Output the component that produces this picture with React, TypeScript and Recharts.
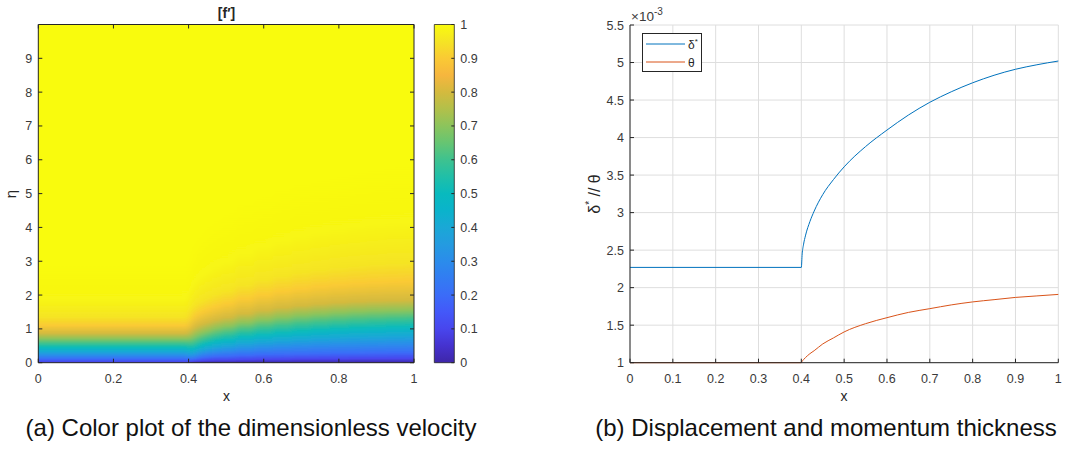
import React from "react";
import {
  ComposedChart,
  LineChart,
  Line,
  XAxis,
  YAxis,
  CartesianGrid,
  ReferenceArea,
  Legend,
} from "recharts";

const FONT = '"Liberation Sans", Arial, Helvetica, sans-serif';
const INK = "#262626";
const TEXT = "#3a3a3a";
const GRID = "#dedede";

// (a) colour plot of f'(x, eta). At each station along x the profile is kept as
// the height eta where f' reaches each level.
const stationX = [0, 0.4, 0.405, 0.41, 0.42, 0.435, 0.45, 0.475, 0.5, 0.55, 0.6, 0.65, 0.7, 0.75, 0.8, 0.85, 0.9, 0.95, 1.0];
const wallF = [0.08, 0.08, 0.02, 0.01, 0, 0, 0, 0, 0, 0, 0, 0, 0, 0, 0, 0, 0, 0, 0];
const fLevels = [0.1, 0.2, 0.3, 0.4, 0.5, 0.6, 0.7, 0.8, 0.9, 0.95, 0.99, 1];
const eta010 = [0.02, 0.02, 0.03, 0.04, 0.05, 0.06, 0.07, 0.08, 0.08, 0.09, 0.1, 0.1, 0.11, 0.11, 0.11, 0.12, 0.12, 0.12, 0.12];
const eta020 = [0.11, 0.11, 0.08, 0.1, 0.12, 0.15, 0.17, 0.19, 0.2, 0.22, 0.24, 0.25, 0.26, 0.27, 0.28, 0.28, 0.29, 0.3, 0.3];
const eta030 = [0.21, 0.21, 0.15, 0.18, 0.22, 0.26, 0.29, 0.32, 0.35, 0.39, 0.43, 0.46, 0.48, 0.5, 0.51, 0.52, 0.53, 0.54, 0.55];
const eta040 = [0.32, 0.32, 0.25, 0.28, 0.33, 0.38, 0.42, 0.47, 0.51, 0.57, 0.62, 0.66, 0.69, 0.72, 0.74, 0.76, 0.77, 0.79, 0.8];
const eta050 = [0.44, 0.44, 0.37, 0.4, 0.46, 0.52, 0.57, 0.63, 0.68, 0.76, 0.82, 0.87, 0.91, 0.95, 0.98, 1.0, 1.02, 1.04, 1.05];
const eta060 = [0.57, 0.57, 0.52, 0.56, 0.62, 0.68, 0.74, 0.81, 0.87, 0.96, 1.04, 1.1, 1.15, 1.19, 1.22, 1.25, 1.27, 1.29, 1.3];
const eta070 = [0.71, 0.71, 0.72, 0.76, 0.82, 0.88, 0.94, 1.02, 1.08, 1.18, 1.27, 1.34, 1.4, 1.44, 1.48, 1.51, 1.53, 1.54, 1.55];
const eta080 = [0.87, 0.87, 0.95, 1.0, 1.06, 1.13, 1.19, 1.27, 1.34, 1.45, 1.55, 1.63, 1.69, 1.74, 1.78, 1.81, 1.83, 1.84, 1.85];
const eta090 = [1.1, 1.1, 1.25, 1.32, 1.4, 1.48, 1.56, 1.65, 1.74, 1.88, 2.0, 2.1, 2.18, 2.25, 2.3, 2.34, 2.37, 2.39, 2.4];
const eta095 = [1.35, 1.35, 1.55, 1.63, 1.72, 1.82, 1.91, 2.02, 2.12, 2.29, 2.44, 2.56, 2.66, 2.74, 2.81, 2.86, 2.9, 2.93, 2.95];
const eta099 = [1.9, 1.9, 2.2, 2.3, 2.45, 2.6, 2.72, 2.88, 3.02, 3.25, 3.45, 3.62, 3.76, 3.88, 3.98, 4.06, 4.12, 4.17, 4.2];
const eta100 = [3.0, 3.0, 3.4, 3.6, 3.8, 4.0, 4.2, 4.4, 4.6, 4.9, 5.1, 5.3, 5.5, 5.6, 5.7, 5.8, 5.9, 6.0, 6.0];
const levelEta = [eta010, eta020, eta030, eta040, eta050, eta060, eta070, eta080, eta090, eta095, eta099, eta100];

const xTicksA = [0, 0.2, 0.4, 0.6, 0.8, 1];
const etaTicks = [0, 1, 2, 3, 4, 5, 6, 7, 8, 9];
const cbarTicks = [0, 0.1, 0.2, 0.3, 0.4, 0.5, 0.6, 0.7, 0.8, 0.9, 1];

// parula-like colormap
const cmapAt = [0, 0.05, 0.1, 0.15, 0.2, 0.25, 0.3, 0.35, 0.4, 0.45, 0.5, 0.55, 0.6, 0.65, 0.7, 0.75, 0.8, 0.85, 0.9, 0.95, 1];
const cmapRgb = [
  [62, 38, 168], [69, 50, 207], [72, 70, 237], [67, 88, 249], [59, 108, 248],
  [50, 124, 242], [43, 140, 235], [36, 155, 224], [26, 168, 214], [10, 179, 203],
  [8, 186, 190], [32, 191, 168], [62, 194, 143], [102, 197, 114], [140, 196, 92],
  [178, 192, 74], [212, 186, 62], [246, 182, 62], [250, 202, 52], [245, 228, 36],
  [249, 251, 14],
];

// (b) displacement / momentum thickness, in units of 1e-3
const xB = [0, 0.4, 0.402, 0.405, 0.41, 0.42, 0.43, 0.45, 0.475, 0.5, 0.55, 0.6, 0.65, 0.7, 0.75, 0.8, 0.85, 0.9, 0.95, 1];
const deltaStar = [2.27, 2.27, 2.45, 2.57, 2.7, 2.88, 3.02, 3.24, 3.44, 3.61, 3.88, 4.1, 4.3, 4.47, 4.61, 4.73, 4.83, 4.91, 4.97, 5.02];
const theta = [1.0, 1.0, 1.02, 1.04, 1.07, 1.12, 1.16, 1.25, 1.33, 1.41, 1.52, 1.6, 1.67, 1.72, 1.77, 1.81, 1.84, 1.87, 1.89, 1.91];
const xTicksB = [0, 0.1, 0.2, 0.3, 0.4, 0.5, 0.6, 0.7, 0.8, 0.9, 1];
const yTicksB = [1, 1.5, 2, 2.5, 3, 3.5, 4, 4.5, 5, 5.5];

function parula(v: number) {
  const t = Math.max(0, Math.min(1, v));
  let k = 0;
  while (k < cmapAt.length - 2 && t > cmapAt[k + 1]) k++;
  const f = (t - cmapAt[k]) / (cmapAt[k + 1] - cmapAt[k]);
  const a = cmapRgb[k];
  const b = cmapRgb[k + 1];
  const c = a.map((ai, j) => Math.round(ai + (b[j] - ai) * f));
  return `rgb(${c[0]},${c[1]},${c[2]})`;
}

// one strip per station, reaching halfway to its neighbours; the outer strips run a
// little past the frame so the horizontal smoothing has something to blend with
const columns = stationX.map((x, i) => {
  const left = i === 0 ? -0.03 : (stationX[i - 1] + x) / 2;
  const right = i === stationX.length - 1 ? 1.03 : (x + stationX[i + 1]) / 2 + 0.004;
  const stops = [{ o: 0, c: parula(wallF[i]) }].concat(
    fLevels.map((f, k) => ({ o: levelEta[k][i] / 10, c: parula(f) }))
  );
  return { id: `fcol${i}`, left, right, stops };
});

const rowsA = stationX.map((x) => ({ x, y: 5 }));
const rowsBar = cbarTicks.map((v) => ({ x: 0.5, v }));
const rowsB = xB.map((x, i) => ({ x, d: deltaStar[i], t: theta[i] }));

const fmt = (v: number) => String(v);
const tickText = { fill: TEXT, fontSize: 12.5, fontFamily: FONT };

// ticks point inwards, as in MATLAB
const bottomTick = (p: any) => (
  <g>
    <line x1={p.x} x2={p.x} y1={p.y} y2={p.y - 4} stroke={INK} />
    <text x={p.x} y={p.y + 20} textAnchor="middle" {...tickText}>
      {fmt(p.payload.value)}
    </text>
  </g>
);
const leftTick = (p: any) => (
  <g>
    <line x1={p.x} x2={p.x + 4} y1={p.y} y2={p.y} stroke={INK} />
    <text x={p.x - 6} y={p.y + 4.5} textAnchor="end" {...tickText}>
      {fmt(p.payload.value)}
    </text>
  </g>
);
const rightTickOnly = (p: any) => <line x1={p.x} x2={p.x - 4} y1={p.y} y2={p.y} stroke={INK} />;
const topTickOnly = (p: any) => <line x1={p.x} x2={p.x} y1={p.y} y2={p.y + 4} stroke={INK} />;
const cbarTick = (p: any) => (
  <g>
    <line x1={p.x} x2={p.x - 3} y1={p.y} y2={p.y} stroke={INK} />
    <text x={p.x + 6} y={p.y + 4.5} textAnchor="start" {...tickText}>
      {fmt(p.payload.value)}
    </text>
  </g>
);

function LegendBox(props: any) {
  const items = props.payload || [];
  return (
    <svg width={60} height={39} style={{ display: "block" }}>
      <rect x={0.5} y={0.5} width={59} height={38} fill="#fff" stroke={INK} />
      {items.map((it: any, i: number) => {
        const y = 11 + i * 18;
        const star = String(it.value).endsWith("*");
        const base = star ? String(it.value).slice(0, -1) : String(it.value);
        return (
          <g key={i}>
            <line x1={4} x2={43} y1={y} y2={y} stroke={it.color} strokeWidth={1} />
            <text x={46} y={y + 4.5} fontSize={12} fontFamily={FONT} fill={INK}>
              {base}
              {star && (
                <tspan dy={-5} fontSize={8}>
                  *
                </tspan>
              )}
            </text>
          </g>
        );
      })}
    </svg>
  );
}

const plotA = { left: 38.3, top: 24.5, right: 414, bottom: 362.7 };

export default function App() {
  return (
    <div style={{ position: "absolute", left: 0, top: 0, width: 1066, height: 457, background: "#fff", overflow: "hidden" }}>
      <svg width={1} height={1} style={{ position: "absolute", left: 0, top: 0 }}>
        <defs>
          {columns.map((col) => (
            <linearGradient key={col.id} id={col.id} x1="0" y1="1" x2="0" y2="0">
              {col.stops.map((s, k) => (
                <stop key={k} offset={s.o} stopColor={s.c} />
              ))}
            </linearGradient>
          ))}
          <linearGradient id="cbar" x1="0" y1="1" x2="0" y2="0">
            {cmapAt.map((v, k) => (
              <stop key={k} offset={v} stopColor={parula(v)} />
            ))}
          </linearGradient>
          <filter id="hblur" x="-5%" y="0%" width="110%" height="100%">
            <feGaussianBlur stdDeviation="3 0" />
          </filter>
        </defs>
      </svg>

      {/* (a) colour field, clipped to the frame and smoothed along x */}
      <div
        style={{
          position: "absolute",
          left: plotA.left,
          top: plotA.top,
          width: plotA.right - plotA.left,
          height: plotA.bottom - plotA.top,
          overflow: "hidden",
        }}
      >
        <div style={{ position: "absolute", left: -plotA.left, top: -plotA.top, filter: "url(#hblur)" }}>
          <ComposedChart width={480} height={420} data={rowsA} margin={{ top: plotA.top, right: 480 - plotA.right, bottom: 420 - plotA.bottom, left: plotA.left }}>
            <XAxis dataKey="x" type="number" domain={[0, 1]} hide />
            <YAxis dataKey="y" type="number" domain={[0, 10]} hide />
            {columns.map((col) => (
              <ReferenceArea
                key={col.id}
                x1={col.left}
                x2={col.right}
                y1={0}
                y2={10}
                fill={`url(#${col.id})`}
                fillOpacity={1}
                stroke="none"
                ifOverflow="visible"
              />
            ))}
          </ComposedChart>
        </div>
      </div>

      {/* (a) frame and ticks */}
      <div style={{ position: "absolute", left: 0, top: 0 }}>
        <ComposedChart width={480} height={420} data={rowsA} margin={{ top: 4.5, right: 46, bottom: 27.3, left: 8.3 }}>
          <XAxis dataKey="x" type="number" domain={[0, 1]} ticks={xTicksA} interval={0} height={30} tickSize={0} tickMargin={0} axisLine={{ stroke: INK }} tickLine={false} tick={bottomTick} />
          <XAxis xAxisId="top" orientation="top" dataKey="x" type="number" domain={[0, 1]} ticks={xTicksA} interval={0} height={20} tickSize={0} tickMargin={0} axisLine={{ stroke: INK }} tickLine={false} tick={topTickOnly} />
          <YAxis dataKey="y" type="number" domain={[0, 10]} ticks={etaTicks} interval={0} width={30} tickSize={0} tickMargin={0} axisLine={{ stroke: INK }} tickLine={false} tick={leftTick} />
          <YAxis yAxisId="right" orientation="right" dataKey="y" type="number" domain={[0, 10]} ticks={etaTicks} interval={0} width={20} tickSize={0} tickMargin={0} axisLine={{ stroke: INK }} tickLine={false} tick={rightTickOnly} />
        </ComposedChart>
      </div>

      {/* colour bar */}
      <div style={{ position: "absolute", left: 420, top: 0 }}>
        <ComposedChart width={70} height={420} data={rowsBar} margin={{ top: 24.5, right: 5.7, bottom: 57.3, left: 14.3 }}>
          <XAxis type="number" dataKey="x" domain={[0, 1]} hide />
          <YAxis orientation="right" dataKey="v" type="number" domain={[0, 1]} ticks={cbarTicks} interval={0} width={30} tickSize={0} tickMargin={0} axisLine={false} tickLine={false} tick={cbarTick} />
          <ReferenceArea x1={0} x2={1} y1={0} y2={1} fill="url(#cbar)" fillOpacity={1} stroke={INK} strokeWidth={0.8} ifOverflow="visible" />
        </ComposedChart>
      </div>

      {/* (b) thickness */}
      <div style={{ position: "absolute", left: 560, top: 0 }}>
        <LineChart width={506} height={420} data={rowsB} margin={{ top: 25, right: 7.7, bottom: 27.3, left: 40 }}>
          <CartesianGrid stroke={GRID} />
          <XAxis dataKey="x" type="number" domain={[0, 1]} ticks={xTicksB} interval={0} height={30} tickSize={0} tickMargin={0} axisLine={{ stroke: INK }} tickLine={false} tick={bottomTick} />
          <YAxis type="number" domain={[1, 5.5]} ticks={yTicksB} interval={0} width={30} tickSize={0} tickMargin={0} axisLine={{ stroke: INK }} tickLine={false} tick={leftTick} />
          <Legend
            layout="vertical"
            align="center"
            verticalAlign="middle"
            content={<LegendBox />}
            wrapperStyle={{ left: 82, top: 33, width: 60, height: 39 }}
          />
          <Line type="monotone" dataKey="d" name="δ*" stroke="#0072BD" strokeWidth={1} dot={false} isAnimationActive={false} />
          <Line type="monotone" dataKey="t" name="θ" stroke="#D95319" strokeWidth={1} dot={false} isAnimationActive={false} />
        </LineChart>
      </div>

      {/* titles, axis labels, captions */}
      <svg width={1066} height={457} style={{ position: "absolute", left: 0, top: 0, pointerEvents: "none" }} fontFamily={FONT}>
        <text x={226.5} y={18} textAnchor="middle" fontSize={14} fontWeight="bold" fill={INK}>
          [f′]
        </text>
        <text transform="translate(16,194) rotate(-90)" textAnchor="middle" fontSize={15} fill={INK}>
          η
        </text>
        <text x={226.5} y={401} textAnchor="middle" fontSize={14} fill={INK}>
          x
        </text>
        <text x={844} y={401} textAnchor="middle" fontSize={14} fill={INK}>
          x
        </text>
        <text transform="translate(600,194) rotate(-90)" textAnchor="middle" fontSize={16} fill={INK}>
          δ<tspan dy={-7} fontSize={10}>*</tspan>
          <tspan dy={7}> // θ</tspan>
        </text>
        <text x={631} y={20.5} fontSize={13.5} fill={TEXT}>
          ×10<tspan dy={-6} fontSize={10}>-3</tspan>
        </text>
        <text x={251} y={436} textAnchor="middle" fontSize={24} fill="#111">
          (a)  Color plot of the dimensionless velocity
        </text>
        <text x={826} y={436} textAnchor="middle" fontSize={24} fill="#111">
          (b)  Displacement and momentum thickness
        </text>
      </svg>
    </div>
  );
}
